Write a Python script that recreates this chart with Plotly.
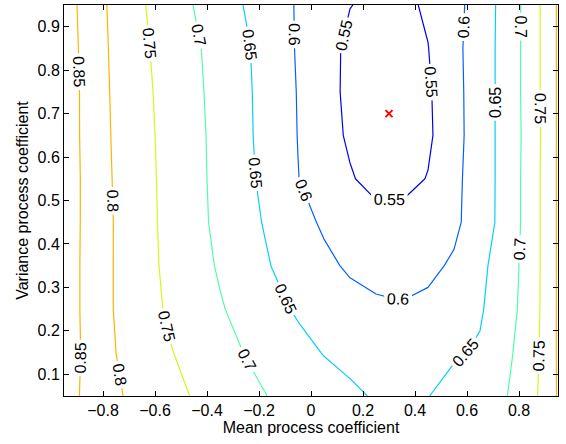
import plotly.graph_objects as go

# grid of the two process coefficients
mean_coef = [-0.95, -0.85, -0.75, -0.65, -0.55, -0.45, -0.35, -0.25, -0.15, -0.05,
             0.05, 0.15, 0.25, 0.35, 0.45, 0.55, 0.65, 0.75, 0.85, 0.95]
var_coef = [0.05, 0.15, 0.25, 0.35, 0.45, 0.55, 0.65, 0.75, 0.85, 0.95]

# objective value, one row per variance coefficient
z_005 = [0.869, 0.837, 0.806, 0.784, 0.765, 0.747, 0.730, 0.713, 0.697, 0.684,
         0.671, 0.658, 0.646, 0.643, 0.649, 0.665, 0.681, 0.698, 0.735, 0.804]
z_015 = [0.875, 0.836, 0.800, 0.777, 0.754, 0.735, 0.716, 0.698, 0.682, 0.665,
         0.648, 0.638, 0.632, 0.630, 0.634, 0.645, 0.655, 0.689, 0.730, 0.805]
z_025 = [0.875, 0.834, 0.796, 0.770, 0.745, 0.725, 0.704, 0.684, 0.664, 0.644,
         0.630, 0.618, 0.608, 0.604, 0.610, 0.625, 0.645, 0.680, 0.726, 0.805]
z_035 = [0.875, 0.834, 0.796, 0.767, 0.741, 0.718, 0.695, 0.672, 0.649, 0.630,
         0.611, 0.593, 0.585, 0.583, 0.590, 0.606, 0.639, 0.675, 0.725, 0.805]
z_045 = [0.875, 0.835, 0.796, 0.766, 0.739, 0.714, 0.689, 0.665, 0.640, 0.617,
         0.593, 0.575, 0.566, 0.565, 0.572, 0.590, 0.626, 0.668, 0.725, 0.805]
z_055 = [0.877, 0.834, 0.794, 0.765, 0.738, 0.713, 0.687, 0.661, 0.631, 0.601,
         0.577, 0.554, 0.535, 0.535, 0.552, 0.588, 0.625, 0.668, 0.725, 0.805]
z_065 = [0.877, 0.832, 0.792, 0.763, 0.737, 0.712, 0.686, 0.658, 0.629, 0.599,
         0.570, 0.543, 0.530, 0.531, 0.542, 0.584, 0.625, 0.668, 0.723, 0.805]
z_075 = [0.878, 0.831, 0.790, 0.761, 0.735, 0.710, 0.684, 0.657, 0.628, 0.598,
         0.568, 0.539, 0.530, 0.530, 0.544, 0.585, 0.625, 0.668, 0.725, 0.805]
z_085 = [0.876, 0.829, 0.788, 0.758, 0.732, 0.707, 0.682, 0.655, 0.626, 0.596,
         0.568, 0.540, 0.533, 0.533, 0.549, 0.587, 0.625, 0.668, 0.725, 0.805]
z_095 = [0.874, 0.826, 0.786, 0.754, 0.726, 0.699, 0.673, 0.647, 0.621, 0.596,
         0.573, 0.551, 0.542, 0.540, 0.556, 0.584, 0.623, 0.668, 0.725, 0.805]

z_rows = [z_005, z_015, z_025, z_035, z_045, z_055, z_065, z_075, z_085, z_095]

# contour levels and their jet-like line colours
levels = [0.55, 0.60, 0.65, 0.70, 0.75, 0.80, 0.85]
level_colors = ["#0000EF", "#004DFF", "#00B3FF", "#10F8E8",
                "#80FF80", "#F2F200", "#FFB300"]

# best point
best_mean = [0.3]
best_var = [0.7]

FONT = "Liberation Sans, Arial, Helvetica, sans-serif"
STEP = 0.05
# the level sequence is started well below the data so that plotly's
# label spacing (which shrinks with the number of levels) puts
# several labels on each line; levels below the data draw nothing
N_LEVELS = 60
contour_start = levels[-1] - STEP * (N_LEVELS - 1)

n = len(levels) - 1
colorscale = [[i / n, c] for i, c in enumerate(level_colors)]

fig = go.Figure()
fig.add_trace(go.Contour(
    x=mean_coef, y=var_coef, z=z_rows,
    zmin=levels[0], zmax=levels[-1], zauto=False,
    colorscale=colorscale, showscale=False,
    contours=dict(start=contour_start, end=levels[-1], size=STEP,
                  coloring="lines", showlabels=True,
                  labelfont=dict(family=FONT, size=16, color="black")),
    line=dict(width=1.2, smoothing=0),
    hoverinfo="skip",
))
fig.add_trace(go.Scatter(
    x=best_mean, y=best_var, mode="markers",
    marker=dict(symbol="x-thin", size=7, line=dict(width=2, color="red"),
                color="red"),
    showlegend=False, hoverinfo="skip",
))

axis_common = dict(
    showline=True, linecolor="black", linewidth=1, mirror="ticks",
    ticks="inside", ticklen=5, tickwidth=1, tickcolor="black",
    showgrid=False, zeroline=False,
    tickfont=dict(family=FONT, size=16, color="black"),
)

fig.update_layout(
    width=566, height=444,
    margin=dict(l=64, r=8, t=5, b=48),
    paper_bgcolor="white", plot_bgcolor="white",
    showlegend=False,
    xaxis=dict(range=[-0.95, 0.95], tickmode="array",
               tickvals=[-0.8, -0.6, -0.4, -0.2, 0, 0.2, 0.4, 0.6, 0.8],
               ticktext=["\u22120.8", "\u22120.6", "\u22120.4", "\u22120.2", "0",
                         "0.2", "0.4", "0.6", "0.8"],
               title=dict(text="Mean process coefficient", standoff=2,
                          font=dict(family=FONT, size=16, color="black")),
               **axis_common),
    yaxis=dict(range=[0.05, 0.95], tickmode="array",
               tickvals=[0.1, 0.2, 0.3, 0.4, 0.5, 0.6, 0.7, 0.8, 0.9],
               ticktext=["0.1", "0.2", "0.3", "0.4", "0.5", "0.6", "0.7", "0.8", "0.9"],
               title=dict(text="Variance process coefficient", standoff=4,
                          font=dict(family=FONT, size=16, color="black")),
               **axis_common),
)

fig.write_html("out.html")
